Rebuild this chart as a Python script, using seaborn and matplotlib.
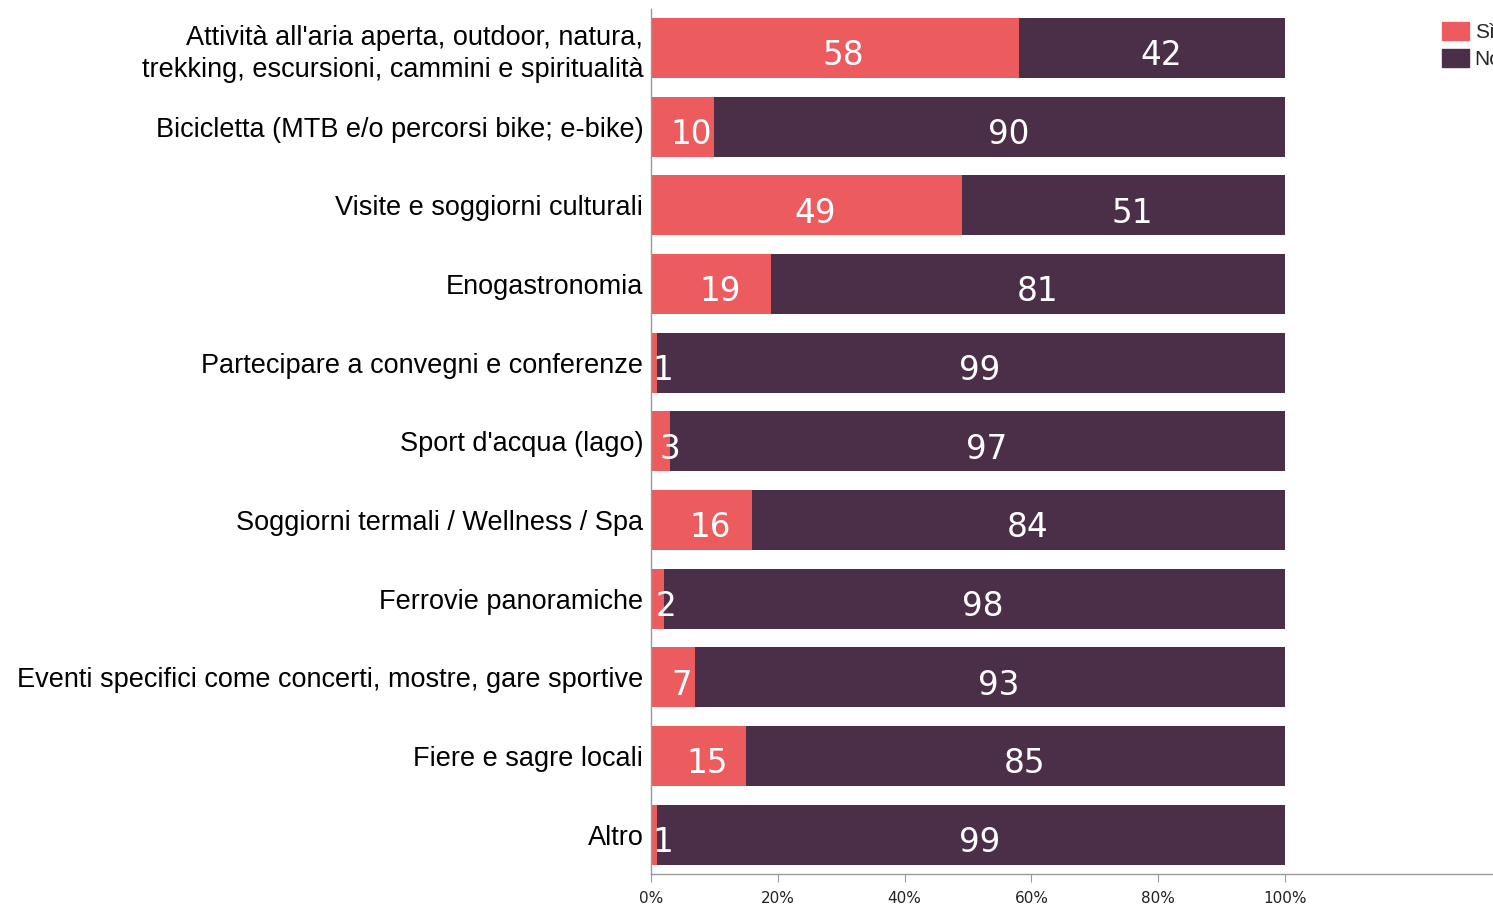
import matplotlib
matplotlib.use("Agg")
import matplotlib.pyplot as plt
import matplotlib.patches as mpatches
import pandas as pd
import seaborn as sns

categories = [
    "Attività all'aria aperta, outdoor, natura,\ntrekking, escursioni, cammini e spiritualità",
    "Bicicletta (MTB e/o percorsi bike; e-bike)",
    "Visite e soggiorni culturali",
    "Enogastronomia",
    "Partecipare a convegni e conferenze",
    "Sport d'acqua (lago)",
    "Soggiorni termali / Wellness / Spa",
    "Ferrovie panoramiche",
    "Eventi specifici come concerti, mostre, gare sportive",
    "Fiere e sagre locali",
    "Altro",
]
si = [58, 10, 49, 19, 1, 3, 16, 2, 7, 15, 1]
no = [42, 90, 51, 81, 99, 97, 84, 98, 93, 85, 99]
tick_vals = [0, 20, 40, 60, 80, 100]
tick_labels = ["0%", "20%", "40%", "60%", "80%", "100%"]

red = "#EC5B5E"
dark = "#4B2E48"

df = pd.DataFrame({"cat": categories, "si": si, "no": no})
df["tot"] = df["si"] + df["no"]

sns.set_style("white")
plt.rcParams["font.family"] = ["Liberation Sans", "DejaVu Sans"]

fig = plt.figure(figsize=(14.93, 9.06), dpi=100)
ax = fig.add_axes([651 / 1493, 32 / 906, 842 / 1493, 865.3 / 906])

sns.barplot(data=df, x="tot", y="cat", orient="h", color=dark, width=0.76,
            saturation=1, ax=ax, linewidth=0)
sns.barplot(data=df, x="si", y="cat", orient="h", color=red, width=0.76,
            saturation=1, ax=ax, linewidth=0)

for i, (s, n) in enumerate(zip(si, no)):
    ax.text(s / 2 + 1.4, i + 0.1, str(s), ha="center", va="center",
            color="white", fontsize=23.5, family="DejaVu Sans")
    ax.text(s + n / 2 + 1.4, i + 0.1, str(n), ha="center", va="center",
            color="white", fontsize=23.5, family="DejaVu Sans")

ax.set_xlim(0, 132.8)
ax.set_ylim(10.5, -0.5)
ax.set_xticks(tick_vals)
ax.set_xticklabels(tick_labels, family=["Liberation Sans Narrow", "DejaVu Sans"], fontsize=11)
ax.tick_params(axis="x", bottom=True, length=6, color="#999999", pad=6, labelcolor="#222222")
ax.tick_params(axis="y", left=False, labelsize=19.5, pad=2, labelcolor="black")
for lab in ax.get_yticklabels():
    lab.set_linespacing(1.3)
ax.set_xlabel("")
ax.set_ylabel("")
for side in ["top", "right"]:
    ax.spines[side].set_visible(False)
for side in ["left", "bottom"]:
    ax.spines[side].set_color("#999999")
    ax.spines[side].set_linewidth(1)

handles = [mpatches.Patch(color=red, label="Sì"), mpatches.Patch(color=dark, label="No")]
fig.legend(handles=handles, loc="upper left", bbox_to_anchor=(1434 / 1493, 1 - 14 / 906),
           frameon=False, fontsize=15, handlelength=1.3, handleheight=0.95,
           handletextpad=0.25, labelspacing=0.3, borderaxespad=0)

fig.savefig("out.png", dpi=100)
